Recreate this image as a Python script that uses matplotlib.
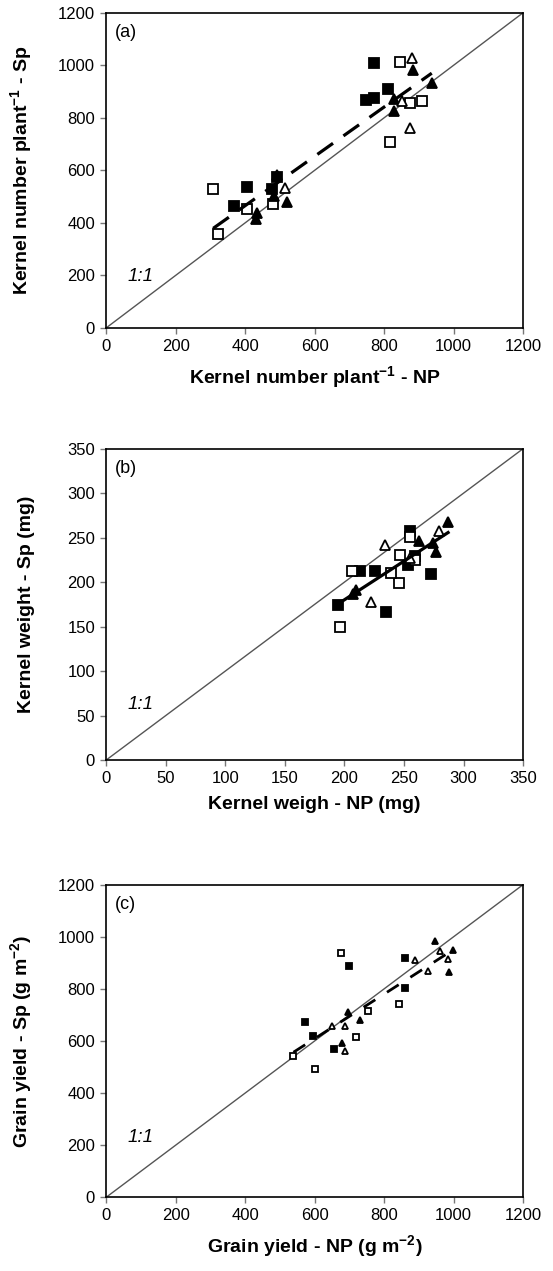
import numpy as np
import matplotlib
matplotlib.use("Agg")
import matplotlib.pyplot as plt

plt.rcParams['font.family'] = ['Liberation Sans', 'DejaVu Sans']
plt.rcParams['mathtext.fontset'] = 'custom'
plt.rcParams['mathtext.rm'] = 'Liberation Sans'
plt.rcParams['mathtext.bf'] = 'Liberation Sans:bold'

# (a) Kernel number plant-1 : NP (x) vs Sp (y)
a_fsq_x = [771, 747, 771, 810, 406, 367, 478, 492]
a_fsq_y = [1008, 868, 876, 911, 536, 464, 527, 575]
a_osq_x = [846, 308, 321, 817, 875, 908, 481, 406]
a_osq_y = [1014, 530, 356, 709, 856, 862, 472, 453]
a_ftr_x = [884, 937, 827, 829, 430, 435, 492, 521, 483]
a_ftr_y = [983, 932, 824, 870, 413, 438, 584, 479, 502]
a_otr_x = [880, 875, 851, 514]
a_otr_y = [1027, 762, 862, 531]

# (b) Kernel weight (mg)
b_fsq_x = [255, 273, 235, 195, 213, 226, 253, 259]
b_fsq_y = [257, 209, 166, 174, 212, 212, 219, 229]
b_osq_x = [206, 196, 246, 239, 247, 255, 259]
b_osq_y = [212, 149, 199, 210, 231, 251, 225]
b_ftr_x = [287, 277, 263, 210, 207, 274]
b_ftr_y = [268, 234, 246, 191, 187, 244]
b_otr_x = [234, 222, 279, 255]
b_otr_y = [242, 178, 257, 227]

# (c) Grain yield (g m-2)
c_fsq_x = [700, 860, 860, 657, 573, 596]
c_fsq_y = [886, 918, 804, 571, 672, 619]
c_osq_x = [675, 601, 539, 843, 719, 753]
c_osq_y = [937, 493, 543, 741, 616, 716]
c_ftr_x = [987, 997, 947, 731, 678, 697]
c_ftr_y = [864, 948, 984, 682, 591, 712]
c_otr_x = [889, 927, 688, 650, 688, 985, 962]
c_otr_y = [911, 870, 562, 659, 657, 914, 946]

panels = [
    dict(tag='(a)', lim=1200, step=200, one_y=0.162,
         xlabel='Kernel number plant$^{\\mathbf{-1}}$ - NP',
         ylabel='Kernel number plant$^{\\mathbf{-1}}$ - Sp',
         data=[(a_fsq_x, a_fsq_y), (a_osq_x, a_osq_y), (a_ftr_x, a_ftr_y), (a_otr_x, a_otr_y)],
         ms=7, fit=dict(ls=(0, (6, 4)), lw=2.3)),
    dict(tag='(b)', lim=350, step=50, one_y=0.18,
         xlabel='Kernel weigh - NP (mg)',
         ylabel='Kernel weight - Sp (mg)',
         data=[(b_fsq_x, b_fsq_y), (b_osq_x, b_osq_y), (b_ftr_x, b_ftr_y), (b_otr_x, b_otr_y)],
         ms=7, fit=dict(ls='-', lw=2.3)),
    dict(tag='(c)', lim=1200, step=200, one_y=0.19,
         xlabel='Grain yield - NP (g m$^{\\mathbf{-2}}$)',
         ylabel='Grain yield - Sp (g m$^{\\mathbf{-2}}$)',
         data=[(c_fsq_x, c_fsq_y), (c_osq_x, c_osq_y), (c_ftr_x, c_ftr_y), (c_otr_x, c_otr_y)],
         ms=4.5, fit=dict(ls=(0, (5, 5)), lw=2.0)),
]

styles = [('s', 'black'), ('s', 'white'), ('^', 'black'), ('^', 'white')]

fig = plt.figure(figsize=(5.53, 12.71), dpi=100)
rects = [[0.192, 0.742, 0.754, 0.248],
         [0.192, 0.402, 0.754, 0.245],
         [0.192, 0.058, 0.754, 0.246]]

for rect, p in zip(rects, panels):
    ax = fig.add_axes(rect)
    lim = p['lim']
    ax.plot([0, lim], [0, lim], color='#555555', lw=1.0, zorder=1)

    all_x, all_y = [], []
    for (xs, ys), (m, fc) in zip(p['data'], styles):
        ax.plot(xs, ys, linestyle='none', marker=m, ms=p['ms'], mfc=fc,
                mec='black', mew=1.3, zorder=3)
        all_x += xs
        all_y += ys

    slope, icpt = np.polyfit(all_x, all_y, 1)
    xf = np.array([min(all_x), max(all_x)])
    ax.plot(xf, slope * xf + icpt, color='black', linestyle=p['fit']['ls'],
            lw=p['fit']['lw'], zorder=4)

    ax.set_xlim(0, lim)
    ax.set_ylim(0, lim)
    ticks = np.arange(0, lim + 1, p['step'])
    ax.set_xticks(ticks)
    ax.set_yticks(ticks)
    ax.tick_params(direction='out', length=4, width=1, color='#777777',
                   labelsize=12, pad=4)
    for s in ax.spines.values():
        s.set_linewidth(1.2)

    ax.set_xlabel(p['xlabel'], fontsize=14, fontweight='bold')
    ax.set_ylabel(p['ylabel'], fontsize=14, fontweight='bold')
    ax.xaxis.set_label_coords(0.5, -0.115)
    ax.yaxis.set_label_coords(-0.17, 0.5)

    ax.text(0.022, 0.937, p['tag'], transform=ax.transAxes, fontsize=13,
            va='center', ha='left')
    ax.text(0.05, p['one_y'], '1:1', transform=ax.transAxes, fontsize=13.5,
            style='italic', va='center', ha='left')

fig.savefig('out.png', dpi=100)
